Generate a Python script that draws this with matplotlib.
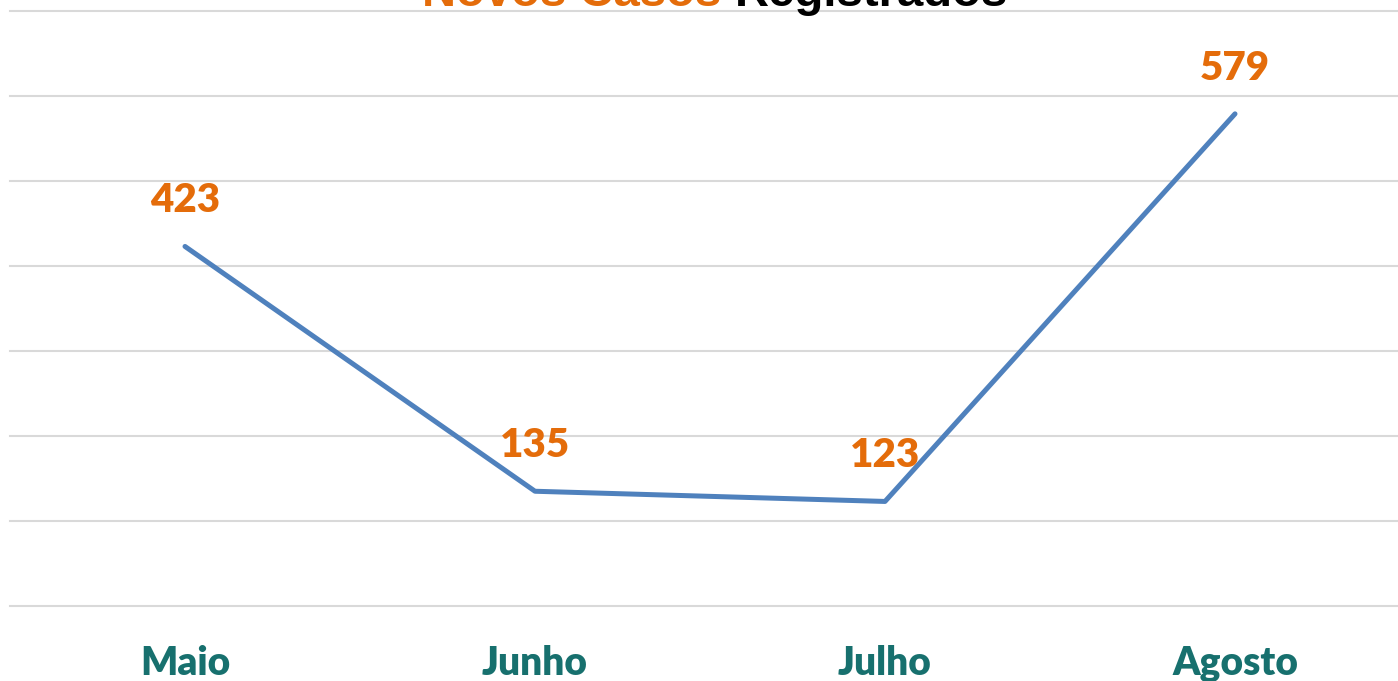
import matplotlib
matplotlib.use("Agg")
import matplotlib.pyplot as plt

# Data
months = ["Maio", "Junho", "Julho", "Agosto"]
cases = [423, 135, 123, 579]
y_max = 700
y_step = 100

line_color = "#4F81BD"
label_color = "#E46C0A"
tick_color = "#17706E"
grid_color = "#D9D9D9"

W, H, DPI = 1398, 681, 100
fig = plt.figure(figsize=(W / DPI, H / DPI), dpi=DPI)

# axes area in pixels: left 10, right 1410, top 11, bottom 606
left, right, top, bottom = 10, 1410, 11, 606
ax = fig.add_axes([left / W, 1 - bottom / H, (right - left) / W, (bottom - top) / H])

x = list(range(len(months)))
ax.plot(x, cases, color=line_color, linewidth=3.6, solid_capstyle="round", zorder=3)

ax.set_xlim(-0.5, len(months) - 0.5)
ax.set_ylim(0, y_max)
for v in range(0, y_max + 1, y_step):
    ax.axhline(v, color=grid_color, linewidth=1.5, zorder=1, clip_on=False)

for s in ax.spines.values():
    s.set_visible(False)
ax.set_yticks([])
ax.set_xticks(x)
ax.set_xticklabels(months, fontfamily="Lato", fontweight="heavy", fontsize=28, color=tick_color)
ax.tick_params(axis="x", length=0, pad=28)

# data labels
for xi, v in zip(x, cases):
    ax.annotate(str(v), (xi, v), xytext=(0, 33), textcoords="offset points",
                ha="center", va="center", fontfamily="Lato", fontweight="heavy",
                fontsize=29, color=label_color, zorder=4)

# title, partly cut off at the top of the image
title_y = 1 - 6 / H
t1 = fig.text(0, title_y, "Novos Casos ", fontfamily="Liberation Sans", fontweight="bold",
              fontsize=34, color=label_color, va="baseline", ha="left")
t2 = fig.text(0, title_y, "Registrados", fontfamily="Liberation Sans", fontweight="bold",
              fontsize=34, color="black", va="baseline", ha="left")
fig.canvas.draw()
r = fig.canvas.get_renderer()
w1 = t1.get_window_extent(r).width
w2 = t2.get_window_extent(r).width
start = 715 - (w1 + w2) / 2
t1.set_x(start / W)
t2.set_x((start + w1) / W)

fig.savefig("out.png", dpi=DPI)
